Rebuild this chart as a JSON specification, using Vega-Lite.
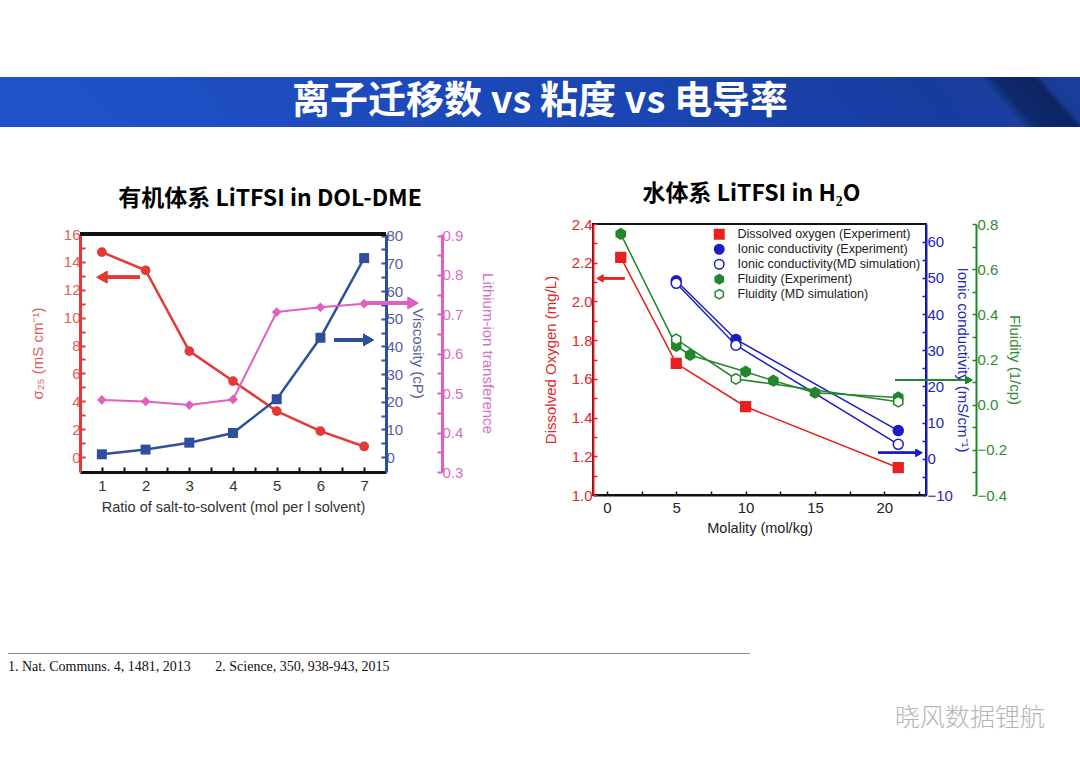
{
  "$schema": "https://vega.github.io/schema/vega-lite/v6.json",
  "background": "white",
  "padding": {"top": 77, "left": 0, "right": 0, "bottom": 30},
  "bounds": "flush",
  "spacing": 97,
  "datasets": {
    "organic": [
      {"ratio": 1, "sigma": 14.7, "viscosity": 1.0, "transference": 0.483},
      {"ratio": 2, "sigma": 13.4, "viscosity": 2.7, "transference": 0.479},
      {"ratio": 3, "sigma": 7.6, "viscosity": 5.2, "transference": 0.470},
      {"ratio": 4, "sigma": 5.45, "viscosity": 8.7, "transference": 0.484},
      {"ratio": 5, "sigma": 3.3, "viscosity": 20.9, "transference": 0.706},
      {"ratio": 6, "sigma": 1.86, "viscosity": 43.1, "transference": 0.718},
      {"ratio": 7, "sigma": 0.76, "viscosity": 71.9, "transference": 0.727}
    ],
    "water": [
      {"quantity": "DO", "series": "Dissolved oxygen (Experiment)", "m": 1, "v": 2.228},
      {"quantity": "DO", "series": "Dissolved oxygen (Experiment)", "m": 5, "v": 1.68},
      {"quantity": "DO", "series": "Dissolved oxygen (Experiment)", "m": 10, "v": 1.456},
      {"quantity": "DO", "series": "Dissolved oxygen (Experiment)", "m": 21, "v": 1.141},
      {"quantity": "IC", "series": "Ionic conductivity (Experiment)", "m": 5, "v": 49.2},
      {"quantity": "IC", "series": "Ionic conductivity (Experiment)", "m": 9.3, "v": 33.0},
      {"quantity": "IC", "series": "Ionic conductivity (Experiment)", "m": 21, "v": 7.8},
      {"quantity": "IC", "series": "Ionic conductivity(MD simulation)", "m": 5, "v": 48.5},
      {"quantity": "IC", "series": "Ionic conductivity(MD simulation)", "m": 9.3, "v": 31.4},
      {"quantity": "IC", "series": "Ionic conductivity(MD simulation)", "m": 21, "v": 4.0},
      {"quantity": "FL", "series": "Fluidity (Experiment)", "m": 1, "v": 0.756},
      {"quantity": "FL", "series": "Fluidity (Experiment)", "m": 5, "v": 0.26},
      {"quantity": "FL", "series": "Fluidity (Experiment)", "m": 6, "v": 0.22},
      {"quantity": "FL", "series": "Fluidity (Experiment)", "m": 10, "v": 0.146},
      {"quantity": "FL", "series": "Fluidity (Experiment)", "m": 12, "v": 0.106},
      {"quantity": "FL", "series": "Fluidity (Experiment)", "m": 15, "v": 0.053},
      {"quantity": "FL", "series": "Fluidity (Experiment)", "m": 21, "v": 0.032},
      {"quantity": "FL", "series": "Fluidity (MD simulation)", "m": 5, "v": 0.289},
      {"quantity": "FL", "series": "Fluidity (MD simulation)", "m": 9.3, "v": 0.114},
      {"quantity": "FL", "series": "Fluidity (MD simulation)", "m": 21, "v": 0.013}
    ]
  },
  "vconcat": [
    {
      "width": 1080,
      "height": 50,
      "view": {"stroke": null},
      "data": {"values": [{"t": "离子迁移数 vs 粘度 vs 电导率"}]},
      "layer": [
        {
          "mark": {
            "type": "rect",
            "color": {
              "gradient": "linear",
              "x1": 0, "y1": 0, "x2": 1, "y2": -0.0407,
              "stops": [
                {"offset": 0, "color": "#1f52c9"},
                {"offset": 0.5, "color": "#1b47b6"},
                {"offset": 0.85, "color": "#173c9f"},
                {"offset": 0.905, "color": "#1a3f9f"},
                {"offset": 0.918, "color": "#0e2a6c"},
                {"offset": 0.955, "color": "#0c2462"},
                {"offset": 0.962, "color": "#1a3a95"},
                {"offset": 1, "color": "#1d3f9f"}
              ]
            }
          },
          "encoding": {}
        },
        {
          "mark": {"type": "text", "color": "white", "font": "Noto Sans CJK SC", "fontSize": 38, "fontWeight": "bold"},
          "encoding": {"text": {"field": "t"}}
        }
      ]
    },
    {
      "bounds": "flush",
      "spacing": 429,
      "vconcat": [
        {
          "bounds": "flush",
          "spacing": 0,
          "hconcat": [
            {"width": 80, "height": 1, "view": {"stroke": null}, "data": {"values": []}, "mark": "point"},
            {
              "width": 306,
              "height": 248,
              "view": {"stroke": null},
              "title": {"text": "有机体系 LiTFSI in DOL-DME", "offset": 13, "dx": 37, "fontSize": 23},
              "data": {"name": "organic"},
              "encoding": {
                "x": {
                  "field": "ratio", "type": "quantitative",
                  "scale": {"domain": [0.5, 7.5], "nice": false, "zero": false},
                  "axis": {
                    "values": [1, 1.5, 2, 2.5, 3, 3.5, 4, 4.5, 5, 5.5, 6, 6.5, 7],
                    "labelExpr": "datum.value % 1 ? '' : format(datum.value, 'd')",
                    "title": "Ratio of salt-to-solvent (mol per l solvent)",
                    "domainColor": "#111", "domainWidth": 3,
                    "tickColor": "#111", "tickWidth": 2, "tickSize": -5,
                    "labelColor": "#333", "titleColor": "#333",
                    "labelFontSize": 15, "titleFontSize": 14.5,
                    "labelPadding": 11, "titlePadding": 7
                  }
                }
              },
              "layer": [
                {
                  "encoding": {
                    "y": {
                      "field": "sigma", "type": "quantitative",
                      "scale": {"domain": [-1.07, 16], "range": [248, 10], "nice": false, "zero": false},
                      "axis": {
                        "orient": "left",
                        "values": [0, 1, 2, 3, 4, 5, 6, 7, 8, 9, 10, 11, 12, 13, 14, 15, 16],
                        "labelExpr": "datum.value % 2 ? '' : datum.label",
                        "title": "σ₂₅ (mS cm⁻¹)",
                        "domainColor": "#e53935", "domainWidth": 3,
                        "tickColor": "#e53935", "tickWidth": 2, "tickSize": -5,
                        "labelColor": "#e0605a", "titleColor": "#e0605a",
                        "labelPadding": 5, "titlePadding": 18
                      }
                    }
                  },
                  "layer": [
                    {
                      "mark": {"type": "rule", "color": "#111", "strokeWidth": 3},
                      "encoding": {"x": {"datum": 0.5, "type": "quantitative"}, "x2": {"datum": 7.5}, "y": {"datum": 16, "type": "quantitative"}}
                    },
                    {"mark": {"type": "line", "color": "#e53935", "strokeWidth": 2.5}},
                    {"mark": {"type": "circle", "color": "#e53935", "size": 95, "opacity": 1}},
                    {
                      "mark": {"type": "rule", "color": "#e53935", "strokeWidth": 3},
                      "encoding": {"x": {"datum": 1.87, "type": "quantitative"}, "x2": {"datum": 1.05}, "y": {"datum": 12.9, "type": "quantitative"}}
                    },
                    {
                      "mark": {"type": "point", "shape": "triangle-left", "filled": true, "color": "#e53935", "size": 150, "opacity": 1},
                      "encoding": {"x": {"datum": 1.0, "type": "quantitative"}, "y": {"datum": 12.9, "type": "quantitative"}}
                    }
                  ]
                },
                {
                  "encoding": {
                    "y": {
                      "field": "viscosity", "type": "quantitative",
                      "scale": {"domain": [-5.4, 80.6], "range": [248, 10], "nice": false, "zero": false},
                      "axis": {
                        "orient": "right",
                        "values": [0, 5, 10, 15, 20, 25, 30, 35, 40, 45, 50, 55, 60, 65, 70, 75, 80],
                        "labelExpr": "datum.value % 10 ? '' : datum.label",
                        "title": "Viscosity (cP)",
                        "domainColor": "#2f4f9e", "domainWidth": 3,
                        "tickColor": "#2f4f9e", "tickWidth": 2, "tickSize": -5,
                        "labelColor": "#56619c", "titleColor": "#56619c",
                        "labelPadding": 5, "titlePadding": 7
                      }
                    }
                  },
                  "layer": [
                    {"mark": {"type": "line", "color": "#2f4f9e", "strokeWidth": 2.5}},
                    {"mark": {"type": "square", "color": "#2f4f9e", "size": 100, "opacity": 1}},
                    {
                      "mark": {"type": "rule", "color": "#2f4f9e", "strokeWidth": 3},
                      "encoding": {"x": {"datum": 6.32, "type": "quantitative"}, "x2": {"datum": 7.05}, "y": {"datum": 42.3, "type": "quantitative"}}
                    },
                    {
                      "mark": {"type": "point", "shape": "triangle-right", "filled": true, "color": "#2f4f9e", "size": 150, "opacity": 1},
                      "encoding": {"x": {"datum": 7.1, "type": "quantitative"}, "y": {"datum": 42.3, "type": "quantitative"}}
                    }
                  ]
                },
                {
                  "encoding": {
                    "y": {
                      "field": "transference", "type": "quantitative",
                      "scale": {"domain": [0.3, 0.904], "range": [248, 10], "nice": false, "zero": false},
                      "axis": {
                        "orient": "right", "offset": 56,
                        "values": [0.3, 0.35, 0.4, 0.45, 0.5, 0.55, 0.6, 0.65, 0.7, 0.75, 0.8, 0.85, 0.9],
                        "labelExpr": "round(datum.value * 100) % 10 ? '' : format(datum.value, '.1f')",
                        "title": "Lithium-ion transference",
                        "domainColor": "#de5fc0", "domainWidth": 3,
                        "tickColor": "#de5fc0", "tickWidth": 2, "tickSize": -5,
                        "labelColor": "#d46ec4", "titleColor": "#d46ec4",
                        "labelPadding": 5, "titlePadding": 17
                      }
                    }
                  },
                  "layer": [
                    {"mark": {"type": "line", "color": "#e060c0", "strokeWidth": 2}},
                    {"mark": {"type": "point", "shape": "diamond", "filled": true, "color": "#e060c0", "size": 95, "opacity": 1}},
                    {
                      "mark": {"type": "rule", "color": "#e060c0", "strokeWidth": 3},
                      "encoding": {"x": {"datum": 7.0, "type": "quantitative"}, "x2": {"datum": 8.05}, "y": {"datum": 0.729, "type": "quantitative"}}
                    },
                    {
                      "mark": {"type": "point", "shape": "triangle-right", "filled": true, "color": "#e060c0", "size": 150, "opacity": 1},
                      "encoding": {"x": {"datum": 8.12, "type": "quantitative"}, "y": {"datum": 0.729, "type": "quantitative"}}
                    }
                  ]
                }
              ],
              "resolve": {"scale": {"y": "independent"}}
            },
            {"width": 207, "height": 1, "view": {"stroke": null}, "data": {"values": []}, "mark": "point"},
            {
              "width": 333,
              "height": 271,
              "view": {"stroke": "#111", "strokeWidth": 2},
              "title": {"text": "水体系 LiTFSI in H₂O", "offset": 11, "dx": -8, "fontSize": 23},
              "data": {"name": "water"},
              "encoding": {
                "x": {
                  "field": "m", "type": "quantitative",
                  "scale": {"domain": [-1, 23], "nice": false, "zero": false},
                  "axis": {
                    "values": [0, 2.5, 5, 7.5, 10, 12.5, 15, 17.5, 20, 22.5],
                    "labelExpr": "datum.value % 5 ? '' : format(datum.value, 'd')",
                    "title": "Molality (mol/kg)",
                    "domainColor": "#111", "domainWidth": 2,
                    "tickColor": "#111", "tickWidth": 1.5, "tickSize": -4,
                    "labelColor": "#222", "titleColor": "#222",
                    "labelFontSize": 15, "titleFontSize": 14.5,
                    "labelPadding": 9, "titlePadding": 6
                  }
                }
              },
              "layer": [
                {
                  "transform": [{"filter": "datum.quantity === 'DO'"}],
                  "encoding": {
                    "y": {
                      "field": "v", "type": "quantitative",
                      "scale": {"domain": [1.0, 2.4], "nice": false, "zero": false},
                      "axis": {
                        "orient": "left",
                        "values": [1.0, 1.1, 1.2, 1.3, 1.4, 1.5, 1.6, 1.7, 1.8, 1.9, 2.0, 2.1, 2.2, 2.3, 2.4],
                        "labelExpr": "round(datum.value * 10) % 2 ? '' : format(datum.value, '.1f')",
                        "title": "Dissolved Oxygen (mg/L)",
                        "domainColor": "#e02020", "domainWidth": 2,
                        "tickColor": "#e02020", "tickWidth": 1.5, "tickSize": -4,
                        "labelColor": "#e02828", "titleColor": "#e02828",
                        "labelPadding": 5, "titlePadding": 13
                      }
                    }
                  },
                  "layer": [
                    {"mark": {"type": "line", "color": "#e82020", "strokeWidth": 1.5}, "encoding": {"detail": {"field": "series"}}},
                    {
                      "mark": {"type": "point", "opacity": 1, "strokeWidth": 1.5},
                      "encoding": {
                        "shape": {"field": "series", "type": "nominal", "legend": {"title": null}, "scale": {"domain": ["Dissolved oxygen (Experiment)", "Ionic conductivity (Experiment)", "Ionic conductivity(MD simulation)", "Fluidity (Experiment)", "Fluidity (MD simulation)"], "range": ["square", "circle", "circle", "M0,-1L0.866,-0.5L0.866,0.5L0,1L-0.866,0.5L-0.866,-0.5Z", "M0,-1L0.866,-0.5L0.866,0.5L0,1L-0.866,0.5L-0.866,-0.5Z"]}},
                        "fill": {"field": "series", "type": "nominal", "legend": {"title": null}, "scale": {"domain": ["Dissolved oxygen (Experiment)", "Ionic conductivity (Experiment)", "Ionic conductivity(MD simulation)", "Fluidity (Experiment)", "Fluidity (MD simulation)"], "range": ["#e82020", "#1c1cc8", "#ffffff", "#22862a", "#ffffff"]}},
                        "stroke": {"field": "series", "type": "nominal", "legend": {"title": null}, "scale": {"domain": ["Dissolved oxygen (Experiment)", "Ionic conductivity (Experiment)", "Ionic conductivity(MD simulation)", "Fluidity (Experiment)", "Fluidity (MD simulation)"], "range": ["#e82020", "#1c1cc8", "#1c1cc8", "#22862a", "#22862a"]}},
                        "size": {"value": 95}
                      }
                    },
                    {
                      "mark": {"type": "rule", "color": "#e82020", "strokeWidth": 2},
                      "encoding": {"x": {"datum": 1.27, "type": "quantitative"}, "x2": {"datum": -0.45}, "y": {"datum": 2.119, "type": "quantitative"}}
                    },
                    {
                      "mark": {"type": "point", "shape": "triangle-left", "filled": true, "color": "#e82020", "size": 60, "opacity": 1},
                      "encoding": {"x": {"datum": -0.5, "type": "quantitative"}, "y": {"datum": 2.119, "type": "quantitative"}}
                    }
                  ]
                },
                {
                  "transform": [{"filter": "datum.quantity === 'IC'"}],
                  "encoding": {
                    "y": {
                      "field": "v", "type": "quantitative",
                      "scale": {"domain": [-10, 64.9], "nice": false, "zero": false},
                      "axis": {
                        "orient": "right",
                        "values": [-10, -5, 0, 5, 10, 15, 20, 25, 30, 35, 40, 45, 50, 55, 60],
                        "labelExpr": "datum.value % 10 ? '' : datum.label",
                        "title": "Ionic conductivity (mS/cm⁻¹)",
                        "domainColor": "#1c1cc8", "domainWidth": 2,
                        "tickColor": "#1c1cc8", "tickWidth": 1.5, "tickSize": -4,
                        "labelColor": "#2424c0", "titleColor": "#2424c0",
                        "labelPadding": 5, "titlePadding": 2
                      }
                    }
                  },
                  "layer": [
                    {"mark": {"type": "line", "color": "#1c1cc8", "strokeWidth": 1.5}, "encoding": {"detail": {"field": "series"}}},
                    {
                      "mark": {"type": "point", "opacity": 1, "strokeWidth": 1.5},
                      "encoding": {
                        "shape": {"field": "series", "type": "nominal", "legend": {"title": null}},
                        "fill": {"field": "series", "type": "nominal", "legend": {"title": null}},
                        "stroke": {"field": "series", "type": "nominal", "legend": {"title": null}},
                        "size": {"value": 100}
                      }
                    },
                    {
                      "mark": {"type": "rule", "color": "#1c1cc8", "strokeWidth": 2},
                      "encoding": {"x": {"datum": 19.57, "type": "quantitative"}, "x2": {"datum": 22.4}, "y": {"datum": 1.66, "type": "quantitative"}}
                    },
                    {
                      "mark": {"type": "point", "shape": "triangle-right", "filled": true, "color": "#1c1cc8", "size": 60, "opacity": 1},
                      "encoding": {"x": {"datum": 22.5, "type": "quantitative"}, "y": {"datum": 1.66, "type": "quantitative"}}
                    }
                  ]
                },
                {
                  "transform": [{"filter": "datum.quantity === 'FL'"}],
                  "encoding": {
                    "y": {
                      "field": "v", "type": "quantitative",
                      "scale": {"domain": [-0.4, 0.8], "nice": false, "zero": false},
                      "axis": {
                        "orient": "right", "offset": 50,
                        "values": [-0.4, -0.3, -0.2, -0.1, 0, 0.1, 0.2, 0.3, 0.4, 0.5, 0.6, 0.7, 0.8],
                        "labelExpr": "round(datum.value * 10) % 2 ? '' : format(datum.value, '.1f')",
                        "title": "Fluidity (1/cp)",
                        "domainColor": "#22862a", "domainWidth": 2,
                        "tickColor": "#22862a", "tickWidth": 1.5, "tickSize": -4,
                        "labelColor": "#2e8b2e", "titleColor": "#2e8b2e",
                        "labelPadding": 5, "titlePadding": 0
                      }
                    }
                  },
                  "layer": [
                    {"mark": {"type": "line", "color": "#22862a", "strokeWidth": 1.5}, "encoding": {"detail": {"field": "series"}}},
                    {
                      "mark": {"type": "point", "opacity": 1, "strokeWidth": 1.5},
                      "encoding": {
                        "shape": {"field": "series", "type": "nominal", "legend": {"title": null}},
                        "fill": {"field": "series", "type": "nominal", "legend": {"title": null}},
                        "stroke": {"field": "series", "type": "nominal", "legend": {"title": null}},
                        "size": {"value": 110}
                      }
                    },
                    {
                      "mark": {"type": "rule", "color": "#22862a", "strokeWidth": 2},
                      "encoding": {"x": {"datum": 20.8, "type": "quantitative"}, "x2": {"datum": 26.0}, "y": {"datum": 0.109, "type": "quantitative"}}
                    },
                    {
                      "mark": {"type": "point", "shape": "triangle-right", "filled": true, "color": "#22862a", "size": 60, "opacity": 1},
                      "encoding": {"x": {"datum": 26.1, "type": "quantitative"}, "y": {"datum": 0.109, "type": "quantitative"}}
                    }
                  ]
                }
              ],
              "resolve": {"scale": {"y": "independent"}}
            }
          ]
        },
        {
          "bounds": "flush",
          "spacing": 0,
          "hconcat": [
            {"width": 8, "height": 1, "view": {"stroke": null}, "data": {"values": []}, "mark": "point"},
            {
              "width": 742,
              "height": 1,
              "view": {"fill": "#8c8c8c", "stroke": null},
              "data": {"values": []},
              "mark": "point",
              "title": {
                "text": "1. Nat. Communs. 4, 1481, 2013\u00a0\u00a0\u00a0\u00a0\u00a0\u00a0\u00a02. Science, 350, 938-943, 2015",
                "orient": "bottom", "anchor": "start", "offset": 6,
                "font": "Liberation Serif", "fontSize": 14, "fontWeight": "normal", "color": "#111"
              }
            },
            {
              "width": 295,
              "height": 1,
              "view": {"stroke": null},
              "data": {"values": []},
              "mark": "point",
              "title": {
                "text": "晓风数据锂航",
                "orient": "bottom", "anchor": "end", "offset": 52,
                "font": "Noto Sans CJK SC", "fontSize": 25, "fontWeight": 300, "color": "#b5b5b5"
              }
            }
          ]
        }
      ]
    }
  ],
  "config": {
    "font": "Liberation Sans",
    "axis": {
      "grid": false,
      "labelFont": "Liberation Sans",
      "titleFont": "Liberation Sans",
      "titleFontWeight": "normal",
      "labelFontSize": 15,
      "titleFontSize": 15,
      "labelOverlap": false,
      "labelFlush": false
    },
    "title": {"font": "Noto Sans CJK SC", "fontSize": 20, "fontWeight": "bold", "color": "#000", "anchor": "middle"},
    "legend": {
      "orient": "none",
      "legendX": 713,
      "legendY": 151,
      "padding": 0,
      "labelFont": "Liberation Sans",
      "labelFontSize": 12.5,
      "labelColor": "#222",
      "labelLimit": 400,
      "labelOffset": 12,
      "symbolSize": 90,
      "symbolStrokeWidth": 1.5,
      "rowPadding": -1
    }
  }
}
